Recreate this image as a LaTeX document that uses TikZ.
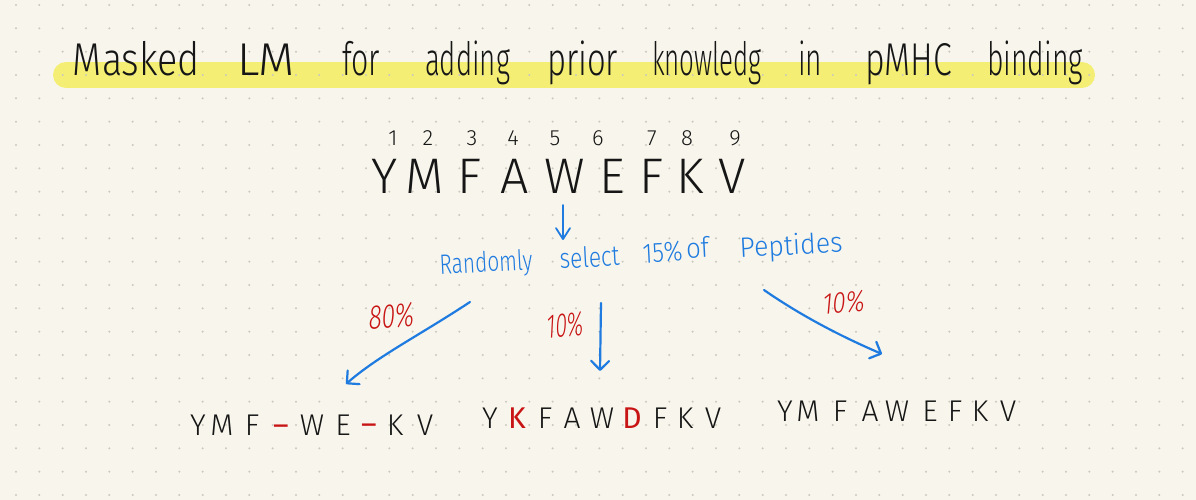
\documentclass[tikz,border=0pt]{standalone}
\usepackage{fontspec}
\usepackage{graphicx}
\setmainfont{Fira Sans Light}
\newfontfamily\penbold{Fira Sans}
\newfontfamily\penslant{Fira Sans Light}[FakeSlant=0.2]
\usetikzlibrary{arrows.meta}
\definecolor{paper}{HTML}{F8F6EC}
\definecolor{dotc}{HTML}{CBC8BE}
\definecolor{hl}{HTML}{F4EF74}
\definecolor{pen}{HTML}{161616}
\definecolor{bluepen}{HTML}{1F7BE0}
\definecolor{redpen}{HTML}{C81414}
\newcommand\fitw[2]{\resizebox{#1pt}{\height}{#2}}
\tikzset{
  titleword/.style={anchor=base, inner sep=0pt, outer sep=0pt, text=pen, font=\fontsize{46}{50}\selectfont},
  bigletter/.style={anchor=base, inner sep=0pt, text=pen, font=\fontsize{50}{54}\selectfont},
  numlabel/.style={anchor=base, inner sep=0pt, text=pen, font=\fontsize{22}{24}\selectfont},
  sentword/.style={anchor=base, inner sep=0pt, text=bluepen, font=\fontsize{28}{30}\selectfont, rotate=3},
  pct/.style={anchor=base, inner sep=0pt, text=redpen, font=\penslant\fontsize{34}{36}\selectfont, rotate=4},
  smallletter/.style={anchor=base, inner sep=0pt, text=pen, font=\fontsize{30}{32}\selectfont},
  redletter/.style={anchor=base, inner sep=0pt, text=redpen, font=\penbold\fontsize{30}{32}\selectfont},
  bluearr/.style={draw=bluepen, line width=2.2pt, line cap=round, line join=round,
    -{Straight Barb[length=9pt,width=18pt,round]}},
  smallarr/.style={draw=bluepen, line width=1.8pt, line cap=round, line join=round,
    -{Straight Barb[length=11pt,width=14pt,round]}}
}
\begin{document}
\begin{tikzpicture}[x=1pt,y=-1pt]
\useasboundingbox (0,0) rectangle (1196,500);
\fill[paper] (0,0) rectangle (1196,500);
% highlighter band
\draw[hl, line width=26pt, line cap=round] (66,75) -- (1082,75);
% dot grid
\foreach \i in {0,...,50} {
  \foreach \j in {0,...,21} {
    \fill[dotc] ({16+23.333*\i},{5+23.333*\j}) circle[radius=1.1pt];
  }
}
% title
\node[titleword] (t1) at (136.5,76) {\fitw{127}{Masked}};
\node[titleword] (t2) at (266,76) {\fitw{58}{LM}};
\node[titleword] (t3) at (361,76) {\fitw{38}{for}};
\node[titleword] (t4) at (467.5,76) {\fitw{85}{adding}};
\node[titleword] (t5) at (582.5,76) {\fitw{71}{prior}};
\node[titleword] (t6) at (707,76) {\fitw{110}{knowledg}};
\node[titleword] (t7) at (810,76) {\fitw{24}{in}};
\node[titleword] (t8) at (908.5,76) {\fitw{87}{pMHC}};
\node[titleword] (t9) at (1035,76) {\fitw{96}{binding}};
% position numbers
\foreach \n/\x in {1/393,2/428,3/472,4/513,5/555,6/598,7/652,8/687,9/735}
  \node[numlabel] (n\n) at (\x,146) {\n};
% peptide
\foreach \L/\x [count=\i] in {Y/385,M/425,F/470,A/515,W/565,E/612,F/652,K/690,V/732}
  \node[bigletter] (s\i) at (\x,193) {\L};
% sentence
\node[sentword] (w1) at (486.5,272) {\fitw{93}{Randomly}};
\node[sentword] (w2) at (590,267) {\fitw{60}{select}};
\node[sentword] (w3) at (663,262) {\fitw{40}{15\%}};
\node[sentword] (w4) at (698,258) {\fitw{23}{of}};
\node[sentword] (w5) at (791.5,255) {\fitw{103}{Peptides}};
% percentages
\node[pct] (p80) at (391,328) {\fitw{46}{80\%}};
\node[pct] (p10a) at (565,337) {\fitw{37}{10\%}};
\node[pct, font=\penslant\fontsize{30}{32}\selectfont] (p10b) at (843,313) {\fitw{42}{10\%}};
% result sequences
\foreach \L/\x [count=\i] in {Y/198,M/222,F/252,W/312,E/343,K/395,V/425}
  \node[smallletter] (a\i) at (\x,435) {\L};
\node[redletter] (am1) at (281,435) {–};
\node[redletter] (am2) at (369,434) {–};
\foreach \L/\x [count=\i] in {Y/490,F/545,A/572,W/602,F/660,K/685,V/713}
  \node[smallletter] (b\i) at (\x,428) {\L};
\node[redletter] (bk) at (517,428) {K};
\node[redletter] (bd) at (632,428) {D};
\foreach \L/\x [count=\i] in {Y/785,M/808,F/840,A/870,W/897,E/930,F/955,K/980,V/1008}
  \node[smallletter] (c\i) at (\x,421) {\L};
% arrows
\coordinate (d0) at (563,205);
\coordinate (d1) at (563,240);
\draw[smallarr] (d0) -- (d1);
\coordinate (l0) at (470,302);
\coordinate (l1) at (346,384);
\draw[bluearr] (l0) .. controls (420,335) and (378,356) .. (l1);
\coordinate (m0) at (601,303);
\coordinate (m1) at (600,371);
\draw[bluearr] (m0) -- (m1);
\coordinate (r0) at (764,290);
\coordinate (r1) at (882,354);
\draw[bluearr] (r0) .. controls (800,315) and (840,336) .. (r1);
\end{tikzpicture}
\end{document}
